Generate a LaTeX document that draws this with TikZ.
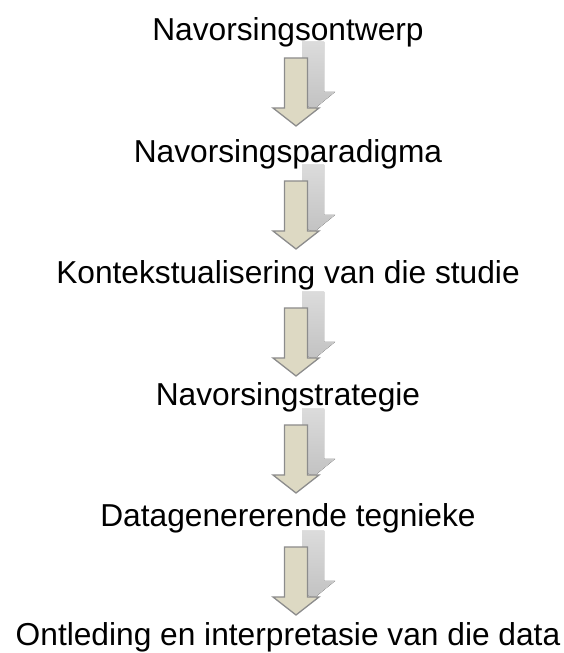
\documentclass[tikz,border=0pt]{standalone}
\usepackage{fontspec}
\setmainfont{Liberation Sans}
\usepackage{tikz}
\usetikzlibrary{calc}
\definecolor{arrowfill}{RGB}{221,217,195}
\definecolor{arrowline}{RGB}{140,140,140}
\tikzset{
  steptext/.style={anchor=base,inner sep=0pt,font=\fontsize{31.7}{38}\selectfont},
  blockarrow/.pic={
    \fill [top color=gray!28,bottom color=gray!48]
      (6,16) -- (28,16) -- (28,-34) -- (39,-34) -- (17,-52) -- (-5,-34) -- (6,-34) -- cycle;
    \draw [arrowline,line width=1.3pt,fill=arrowfill,line join=miter]
      (-11.5,0) -- (11.5,0) -- (11.5,-50) -- (23,-50) -- (0,-68) -- (-23,-50) -- (-11.5,-50) -- cycle;
  }
}

\begin{document}
\begin{tikzpicture}[x=1pt,y=1pt]
      \useasboundingbox (0,0) rectangle (563,653);
      \node [steptext] (t1) at (288,612) {Navorsingsontwerp};
      \node [steptext] (t2) at (288,490.5) {Navorsingsparadigma};
      \node [steptext] (t3) at (288,369) {Kontekstualisering van die studie};
      \node [steptext] (t4) at (288,247.5) {Navorsingstrategie};
      \node [steptext] (t5) at (288,126) {Datagenererende tegnieke};
      \node [steptext] (t6) at (288,7) {Ontleding en interpretasie van die data};
      \foreach \y in {595,472,345,228,106}
        \pic at (296,\y) {blockarrow};
    \end{tikzpicture}
\end{document}
